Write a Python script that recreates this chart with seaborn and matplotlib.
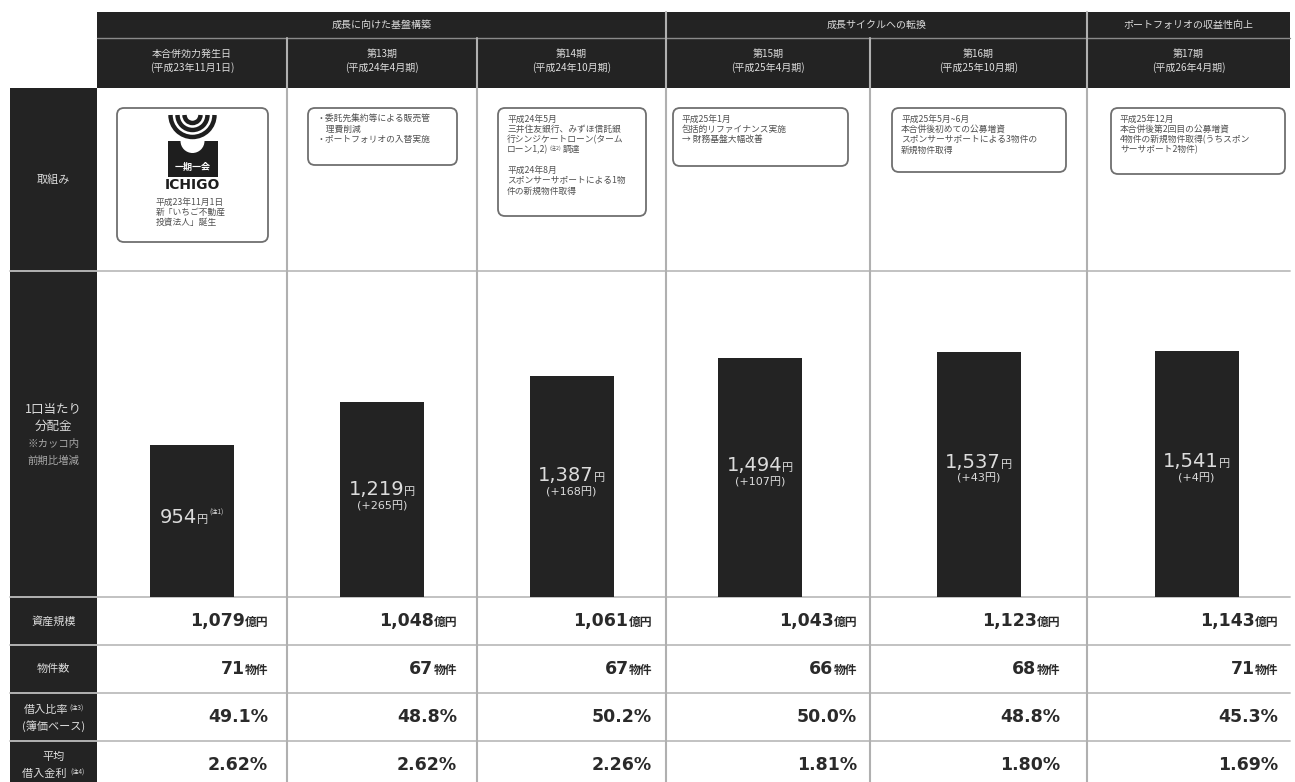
import numpy as np
import pandas as pd
import seaborn as sns
import matplotlib.pyplot as plt
from matplotlib.patches import Rectangle, FancyBboxPatch, Wedge, Arc
from matplotlib.offsetbox import TextArea, HPacker, AnnotationBbox

# ---- data ----
groups = ["成長に向けた基盤構築", "成長サイクルへの転換", "ポートフォリオの収益性向上"]
group_sizes = [3, 2, 1]
periods = ["本合併効力発生日", "第13期", "第14期", "第15期", "第16期", "第17期"]
period_dates = ["(平成23年11月1日)", "(平成24年4月期)", "(平成24年10月期)",
                "(平成25年4月期)", "(平成25年10月期)", "(平成26年4月期)"]
distribution = [954, 1219, 1387, 1494, 1537, 1541]   # 1口当たり分配金 (円)
asset_size = [1079, 1048, 1061, 1043, 1123, 1143]     # 資産規模 (億円)
num_properties = [71, 67, 67, 66, 68, 71]              # 物件数
ltv = [49.1, 48.8, 50.2, 50.0, 48.8, 45.3]             # 借入比率 (%)
avg_rate = [2.62, 2.62, 2.26, 1.81, 1.80, 1.69]        # 平均借入金利 (%)

# "^...^" marks a superscript note
initiatives = [
    ["平成23年11月1日", "新「いちご不動産", "投資法人」誕生"],
    ["・委託先集約等による販売管", "　理費削減", "・ポートフォリオの入替実施"],
    ["平成24年5月", "三井住友銀行、みずほ信託銀", "行シンジケートローン(ターム",
     "ローン1,2)^(注2)^調達", "", "平成24年8月", "スポンサーサポートによる1物",
     "件の新規物件取得"],
    ["平成25年1月", "包括的リファイナンス実施", "→ 財務基盤大幅改善"],
    ["平成25年5月~6月", "本合併後初めての公募増資", "スポンサーサポートによる3物件の",
     "新規物件取得"],
    ["平成25年12月", "本合併後第2回目の公募増資", "4物件の新規物件取得(うちスポン",
     "サーサポート2物件)"],
]

# ---- layout (pixels) ----
W, H, DPI = 1295, 782, 100
DARK = "#232323"
LIGHT = "#dcdcdc"
col_edges = [97, 287, 477, 666, 870, 1087, 1290]
left_x0 = 10
head_top, head_mid, head_bot = 12, 38, 88
row_edges = [88, 271, 597, 645, 693, 741, 790]
box_x = [(117, 268), (308, 457), (498, 646), (673, 848), (892, 1066), (1111, 1285)]
box_top = 108
box_bot = [242, 165, 216, 166, 172, 174]
value_right = [268, 457, 652, 857, 1060, 1278]
bar_px = 84
bar_nudge = [0, 0, 0, -8, 0, 8]   # bars are not exactly centred in every cell
bar_ymax = 2042

sns.set_theme(style="white")
plt.rcParams["font.family"] = ["Noto Sans CJK JP", "DejaVu Sans"]
JP = ["Noto Sans CJK JP", "DejaVu Sans"]
NUM = ["DejaVu Sans", "Noto Sans CJK JP"]


def rich(ax, xy, parts, color, align=(0.5, 0.5), offset=None):
    """parts: (text, size, weight, family, is_superscript)"""
    items, run = [], []
    for text, size, weight, fam, sup in parts:
        ta = TextArea(text, textprops=dict(fontsize=size, color=color,
                                           fontweight=weight, family=fam))
        if sup:
            if run:
                items.append(HPacker(children=run, align="baseline", pad=0, sep=0))
                run = []
            items.append(ta)
        else:
            run.append(ta)
    if run:
        items.append(HPacker(children=run, align="baseline", pad=0, sep=0))
    box = items[0] if len(items) == 1 else HPacker(children=items, align="top", pad=0, sep=1)
    kw = dict(xycoords="data", frameon=False, box_alignment=align, pad=0)
    if offset is not None:
        kw.update(xybox=offset, boxcoords="offset points")
    ax.add_artist(AnnotationBbox(box, xy, **kw))


def marked(text, size, sup_size, weight="normal"):
    parts = []
    for k, piece in enumerate(text.split("^")):
        if piece:
            parts.append((piece, sup_size if k % 2 else size, weight, JP, k % 2 == 1))
    return parts


fig = plt.figure(figsize=(W / DPI, H / DPI), dpi=DPI)
bg = fig.add_axes([0, 0, 1, 1])
bg.set_xlim(0, W)
bg.set_ylim(H, 0)
bg.axis("off")

# dark header + left label column
bg.add_patch(Rectangle((col_edges[0], head_top), col_edges[-1] - col_edges[0],
                       head_bot - head_top, fc=DARK, ec="none"))
bg.add_patch(Rectangle((left_x0, head_bot), col_edges[0] - left_x0, H, fc=DARK, ec="none"))

# grid lines
bg.plot([col_edges[0], col_edges[-1]], [head_mid, head_mid], color="#8a8a8a", lw=1)
for y in row_edges[1:-1]:
    bg.plot([left_x0, col_edges[-1]], [y, y], color="#bdbdbd", lw=1.3)
group_bounds = np.cumsum(group_sizes)[:-1]
for i, x in enumerate(col_edges[1:-1], start=1):
    y0 = head_top if i in group_bounds else head_mid
    bg.plot([x, x], [y0, H], color="#b0b0b0", lw=1.5)

# header texts
start = 0
for g, n in zip(groups, group_sizes):
    xc = (col_edges[start] + col_edges[start + n]) / 2
    bg.text(xc, (head_top + head_mid) / 2, g, color=LIGHT, fontsize=7.2,
            ha="center", va="center")
    start += n
for i, (p, d) in enumerate(zip(periods, period_dates)):
    xc = (col_edges[i] + col_edges[i + 1]) / 2
    bg.text(xc, 54, p, color=LIGHT, fontsize=7.2, ha="center", va="center")
    bg.text(xc, 68, d, color=LIGHT, fontsize=7.2, ha="center", va="center")

# left labels
lx = (left_x0 + col_edges[0]) / 2
bg.text(lx, (row_edges[0] + row_edges[1]) / 2, "取組み", color=LIGHT, fontsize=8,
        ha="center", va="center")
bg.text(lx, 409, "1口当たり", color=LIGHT, fontsize=9, ha="center", va="center")
bg.text(lx, 426, "分配金", color=LIGHT, fontsize=9, ha="center", va="center")
bg.text(lx, 444, "※カッコ内", color="#a8a8a8", fontsize=7.5, ha="center", va="center")
bg.text(lx, 461, "前期比増減", color="#a8a8a8", fontsize=7.5, ha="center", va="center")
bg.text(lx, 621, "資産規模", color=LIGHT, fontsize=8, ha="center", va="center")
bg.text(lx, 669, "物件数", color=LIGHT, fontsize=8, ha="center", va="center")
rich(bg, (lx, 710), marked("借入比率^(注3)^", 8, 4.5), LIGHT)
bg.text(lx, 726, "(簿価ベース)", color=LIGHT, fontsize=8, ha="center", va="center")
bg.text(lx, 757, "平均", color=LIGHT, fontsize=8, ha="center", va="center")
rich(bg, (lx, 774), marked("借入金利 ^(注4)^", 8, 4.5), LIGHT)

# initiative boxes
for i, lines in enumerate(initiatives):
    x0, x1 = box_x[i]
    bg.add_patch(FancyBboxPatch((x0, box_top), x1 - x0, box_bot[i] - box_top,
                                boxstyle="round,pad=0,rounding_size=7",
                                fc="white", ec="#6f6f6f", lw=1.3))
    if i == 0:
        cx = (x0 + x1) / 2
        for r in (8, 15, 22):
            bg.add_patch(Arc((cx, 115), 2 * r, 2 * r, theta1=0, theta2=180,
                             color="#1e1e1e", lw=3.2))
        bg.add_patch(Rectangle((cx - 25, 141), 50, 36, fc="#1e1e1e", ec="none"))
        bg.add_patch(Wedge((cx, 141), 12, 0, 180, fc="white", ec="none"))
        bg.text(cx, 167, "一期一会", color="white", fontsize=6.5, fontweight="bold",
                ha="center", va="center")
        bg.text(cx, 185, "ICHIGO", color="#1e1e1e", fontsize=10, fontweight="bold",
                family=NUM, ha="center", va="center")
        tx, ty = 156, 202
    else:
        tx, ty = x0 + 9, box_top + 11
    for k, line in enumerate(lines):
        if line:
            rich(bg, (tx, ty + k * 10.3), marked(line, 6.3, 3.8), "#505050", align=(0, 0.5))

# bars: one small axes per column so each bar sits in its own cell
df = pd.DataFrame({"period": periods, "distribution": distribution})
change = np.diff(df["distribution"])
for i in range(len(periods)):
    x0, x1 = col_edges[i] + bar_nudge[i], col_edges[i + 1] + bar_nudge[i]
    ax = fig.add_axes([x0 / W, 1 - row_edges[2] / H, (x1 - x0) / W,
                       (row_edges[2] - row_edges[1]) / H])
    sns.barplot(data=df.iloc[[i]], x="period", y="distribution", ax=ax,
                color=DARK, saturation=1, width=bar_px / (x1 - x0), edgecolor="none")
    ax.set_xlim(-0.5, 0.5)
    ax.set_ylim(0, bar_ymax)
    ax.axis("off")
    ax.patch.set_alpha(0)
    v = df["distribution"].iloc[i]
    main = [(f"{v:,}", 14, "normal", NUM, False), ("円", 8, "normal", JP, False)]
    if i == 0:
        main.append(("(注1)", 4.5, "normal", JP, True))
        rich(ax, (0, v * 0.52), main, LIGHT)
    else:
        rich(ax, (0, v * 0.55), main, LIGHT)
        rich(ax, (0, v * 0.55), [(f"(+{change[i - 1]}円)", 8, "normal", NUM, False)],
             LIGHT, offset=(0, -12))

# bottom value rows
rows = [
    ([f"{v:,}" for v in asset_size], "億円"),
    ([f"{v}" for v in num_properties], "物件"),
    ([f"{v:.1f}%" for v in ltv], ""),
    ([f"{v:.2f}%" for v in avg_rate], ""),
]
for r, (vals, unit) in enumerate(rows):
    yc = (row_edges[r + 2] + row_edges[r + 3]) / 2
    if r == 3:
        yc = 765
    for i, s in enumerate(vals):
        parts = [(s, 12.5, "bold", NUM, False)]
        if unit:
            parts.append((unit, 8.5, "bold", JP, False))
        rich(bg, (value_right[i], yc), parts, "#2a2a2a", align=(1, 0.5))

fig.savefig("out.png", dpi=DPI)
